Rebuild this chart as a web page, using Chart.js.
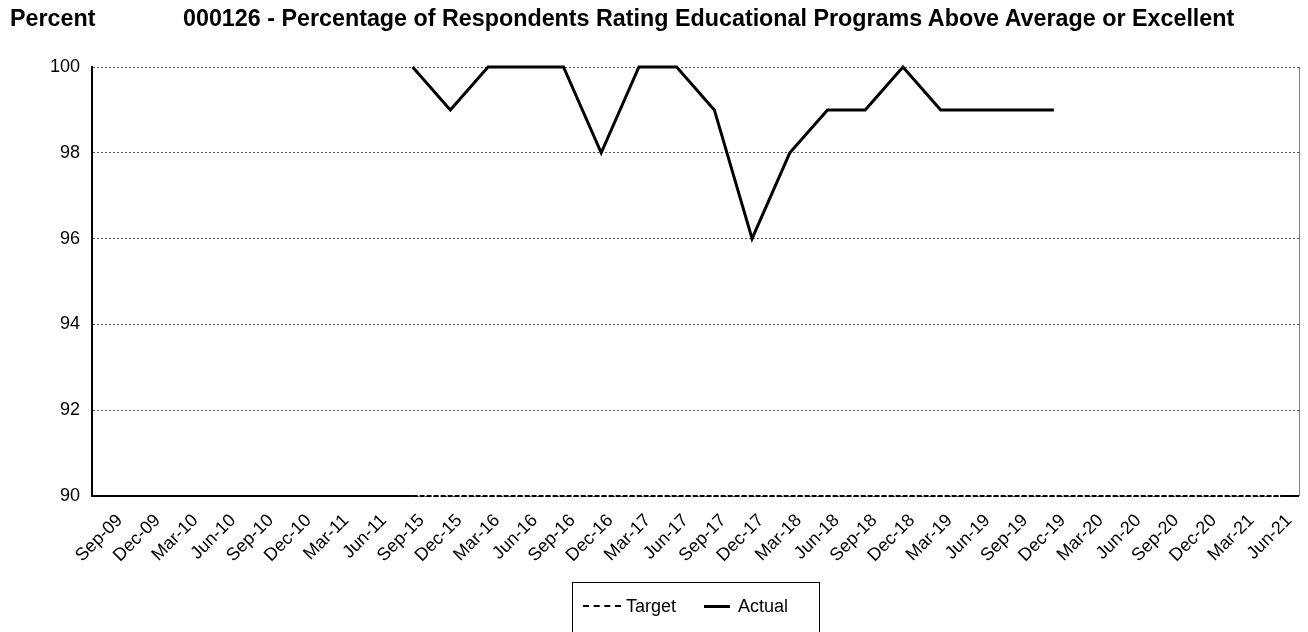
<!DOCTYPE html>
<html>
<head>
<meta charset="utf-8">
<script src="https://cdn.jsdelivr.net/npm/chart.js@4.4.1/dist/chart.umd.min.js"></script>
<style>
  html, body { margin: 0; padding: 0; background: #fff; }
  #wrap { position: relative; width: 1308px; height: 632px; overflow: hidden; font-family: "Liberation Sans", Arial, sans-serif; }
  #c { position: absolute; left: 0; top: 0; }
  .ttl { position: absolute; top: 7px; font-weight: bold; font-size: 23.3px; line-height: 23px; color: #000; white-space: nowrap; }
  #legend { position: absolute; left: 572px; top: 582px; width: 248px; height: 80px; border: 1px solid #000; box-sizing: border-box; font-size: 18px; color: #000; }
  .li { position: absolute; top: 12px; height: 22px; line-height: 22px; }
  .sample { position: absolute; top: 10px; }
</style>
</head>
<body>
<div id="wrap">
  <canvas id="c" width="1308" height="632"></canvas>
  <div class="ttl" style="left:10px">Percent</div>
  <div class="ttl" style="left:183px">000126 - Percentage of Respondents Rating Educational Programs Above Average or Excellent</div>
  <div id="legend">
    <div class="sample" style="left:10px; width:38px; top:22px; border-top:2px dashed #000;"></div>
    <div class="li" style="left:53px">Target</div>
    <div class="sample" style="left:131px; width:26px; top:22px; border-top:3px solid #000;"></div>
    <div class="li" style="left:165px">Actual</div>
  </div>
</div>
<script>
const categories = ["Sep-09","Dec-09","Mar-10","Jun-10","Sep-10","Dec-10","Mar-11","Jun-11",
  "Sep-15","Dec-15","Mar-16","Jun-16","Sep-16","Dec-16","Mar-17","Jun-17","Sep-17","Dec-17",
  "Mar-18","Jun-18","Sep-18","Dec-18","Mar-19","Jun-19","Sep-19","Dec-19",
  "Mar-20","Jun-20","Sep-20","Dec-20","Mar-21","Jun-21"];
const targetValues = [null,null,null,null,null,null,null,null,
  90,90,90,90,90,90,90,90,90,90,90,90,90,90,90,90,90,90,90,90,90,90,90,90];
const actualValues = [null,null,null,null,null,null,null,null,
  100,99,100,100,100,98,100,100,99,96,98,99,99,100,99,99,99,99,
  null,null,null,null,null,null];
const yMin = 90, yMax = 100, yStep = 2;

const FONT = '"Liberation Sans", Arial, sans-serif';

// frame: right border (grey) and bottom axis line outside the span covered by the Target line
const frame = {
  id: 'frame',
  beforeDatasetsDraw(chart) {
    const a = chart.chartArea, ctx = chart.ctx, xs = chart.scales.x;
    const idx = targetValues.map((v, i) => v === null ? -1 : i).filter(i => i >= 0);
    const x0 = xs.getPixelForValue(idx[0]);
    const x1 = xs.getPixelForValue(idx[idx.length - 1]);
    ctx.save();
    ctx.setLineDash([]);
    ctx.strokeStyle = '#000';
    ctx.lineWidth = 2;
    ctx.beginPath();
    ctx.moveTo(a.left, a.bottom);
    ctx.lineTo(x0, a.bottom);
    ctx.moveTo(x1, a.bottom);
    ctx.lineTo(a.right, a.bottom);
    ctx.stroke();
    ctx.strokeStyle = '#808080';
    ctx.lineWidth = 1;
    ctx.beginPath();
    ctx.moveTo(a.right + 0.5, a.top);
    ctx.lineTo(a.right + 0.5, a.bottom);
    ctx.stroke();
    ctx.restore();
  }
};

new Chart(document.getElementById('c'), {
  type: 'line',
  data: {
    labels: categories,
    datasets: [
      { label: 'Target', data: targetValues, borderColor: '#000', borderWidth: 2, borderDash: [5, 2],
        pointRadius: 0, tension: 0, fill: false, spanGaps: false, clip: false },
      { label: 'Actual', data: actualValues, borderColor: '#000', borderWidth: 3,
        pointRadius: 0, tension: 0, fill: false, spanGaps: false, borderJoinStyle: 'miter', clip: false }
    ]
  },
  options: {
    responsive: false,
    animation: false,
    layout: { padding: { top: 67, right: 9, bottom: 0, left: 0 } },
    plugins: { legend: { display: false }, title: { display: false }, tooltip: { enabled: false } },
    scales: {
      x: {
        offset: true,
        grid: { display: false, drawTicks: false },
        border: { display: false },
        ticks: { autoSkip: false, maxRotation: 45, minRotation: 45, color: '#000', padding: 14,
                 labelOffset: 9, font: { family: FONT, size: 18 } },
        afterFit(axis) { axis.height = 136; axis.paddingRight = 0; axis.paddingLeft = 0; }
      },
      y: {
        min: yMin, max: yMax,
        grid: { color: '#555', lineWidth: 1, drawTicks: false },
        border: { display: true, color: '#000', width: 2, dash: [2, 2] },
        ticks: { stepSize: yStep, color: '#000', padding: 12, font: { family: FONT, size: 18 } },
        afterFit(axis) { axis.width = 92; axis.paddingTop = 0; axis.paddingBottom = 0; }
      }
    }
  },
  plugins: [frame]
});
</script>
</body>
</html>
